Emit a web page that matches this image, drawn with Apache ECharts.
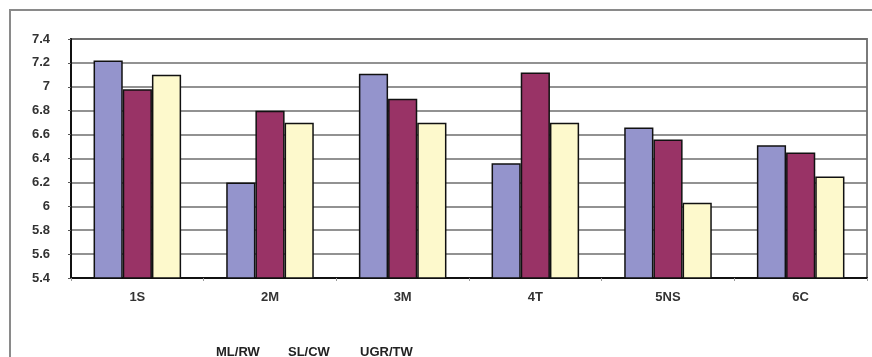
<!DOCTYPE html>
<html>
<head>
<meta charset="utf-8">
<style>
  html, body { margin: 0; padding: 0; background: #ffffff; }
  #chart { width: 872px; height: 357px; }
</style>
<script src="https://cdn.jsdelivr.net/npm/echarts@6/dist/echarts.min.js"></script>
</head>
<body>
<div id="chart"></div>
<script>
// Categories and series values
const categories = ['1S', '2M', '3M', '4T', '5NS', '6C'];
const seriesNames = ['ML/RW', 'SL/CW', 'UGR/TW'];
const mlrw  = [7.22, 6.20, 7.11, 6.36, 6.66, 6.51];
const slcw  = [6.98, 6.80, 6.90, 7.12, 6.56, 6.45];
const ugrtw = [7.10, 6.70, 6.70, 6.70, 6.03, 6.25];
const yTicks = { min: 5.4, max: 7.4, step: 0.2 };

const colors = ['#9494cc', '#993366', '#fdf9cc'];
const values = [mlrw, slcw, ugrtw];
const legendLeft = [205, 277, 349];

const chart = echarts.init(document.getElementById('chart'), null, { renderer: 'canvas' });

const labelFont = 'Liberation Sans, Arial';

const series = seriesNames.map((name, i) => ({
  name: name,
  type: 'bar',
  data: values[i],
  barGap: '0%',
  barCategoryGap: '34%',
  itemStyle: { color: colors[i], borderColor: '#111', borderWidth: 1.5 },
  emphasis: { disabled: true }
}));

// one text-only legend entry per series, spaced evenly
const legends = seriesNames.map((name, i) => ({
  data: [name],
  left: legendLeft[i], top: 341,
  icon: 'rect',
  itemWidth: 0, itemHeight: 0,
  selectedMode: false,
  textStyle: { fontFamily: labelFont, fontSize: 13, fontWeight: 'bold', color: '#222' }
}));

chart.setOption({
  animation: false,
  backgroundColor: '#ffffff',
  graphic: [{
    type: 'rect',
    shape: { x: 10, y: 10, width: 920, height: 420 },
    style: { fill: 'none', stroke: '#8a8a8a', lineWidth: 2 },
    silent: true,
    z: -10
  }],
  grid: {
    left: 71, right: 5, top: 39, bottom: 79,
    show: true, borderColor: '#7a7a7a', borderWidth: 2, backgroundColor: 'transparent'
  },
  legend: legends,
  xAxis: {
    type: 'category',
    data: categories,
    axisLine: { lineStyle: { color: '#111', width: 2 } },
    axisTick: { show: true, length: 3, lineStyle: { color: '#999' } },
    axisLabel: { margin: 13, fontFamily: labelFont, fontSize: 13, fontWeight: 'bold', color: '#333' }
  },
  yAxis: {
    type: 'value',
    min: yTicks.min, max: yTicks.max, interval: yTicks.step,
    axisLine: { show: true, lineStyle: { color: '#111', width: 2 } },
    axisTick: { show: true, length: 3, lineStyle: { color: '#555' } },
    splitLine: { lineStyle: { color: '#6e6e6e', width: 1.6 } },
    axisLabel: {
      margin: 21,
      fontFamily: labelFont, fontSize: 13, fontWeight: 'bold', color: '#333',
      formatter: v => String(parseFloat(v.toFixed(1)))
    }
  },
  series: series
});
</script>
</body>
</html>
